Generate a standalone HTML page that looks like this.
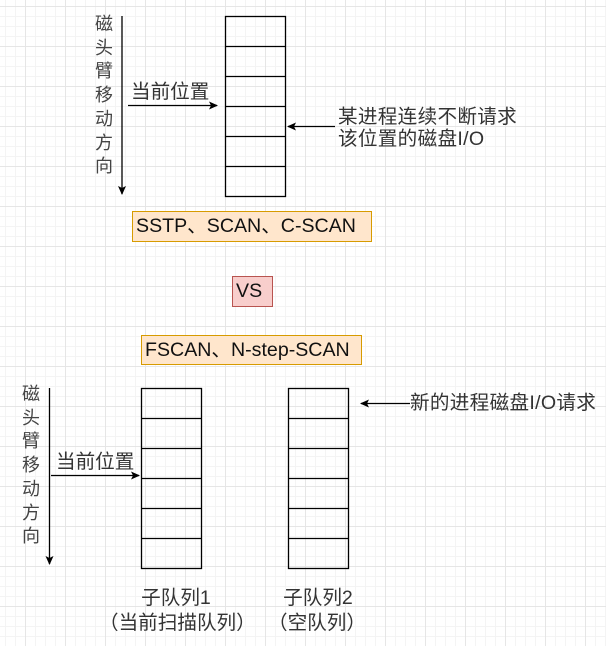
<!DOCTYPE html>
<html><head><meta charset="utf-8"><style>
html,body{margin:0;padding:0;}
body{width:606px;height:646px;position:relative;overflow:hidden;background:#fff;
background-image:linear-gradient(#e6e6e6 1px,transparent 1px),linear-gradient(90deg,#e6e6e6 1px,transparent 1px),linear-gradient(#f4f4f4 1px,transparent 1px),linear-gradient(90deg,#f4f4f4 1px,transparent 1px);
background-size:40px 40px,40px 40px,10px 10px,10px 10px;background-position:0 6px,25px 0,0 6px,25px 0;
font-family:"Liberation Sans","Noto Sans CJK SC",sans-serif;color:#333;}
.t{position:absolute;white-space:nowrap;font-size:19.6px;line-height:22px;}
.v{position:absolute;width:24px;text-align:center;font-size:18px;line-height:23.7px;color:#444;}
.box{position:absolute;box-sizing:border-box;font-size:19.6px;color:#111;padding-left:3px;white-space:nowrap;}
svg{position:absolute;left:0;top:0;}
</style></head><body>
<svg width="606" height="646">
<defs><marker id="a" markerWidth="10" markerHeight="10" refX="8" refY="4" orient="auto" markerUnits="userSpaceOnUse"><path d="M0,0 L9,4 L0,8 L2,4 z" fill="#000"/></marker></defs>
<g fill="none" stroke="#000" stroke-width="1.3">
<rect x="225.5" y="16.5" width="60" height="180"/>
<line x1="225" y1="46.5" x2="286" y2="46.5"/><line x1="225" y1="76.5" x2="286" y2="76.5"/><line x1="225" y1="106.5" x2="286" y2="106.5"/><line x1="225" y1="136.5" x2="286" y2="136.5"/><line x1="225" y1="166.5" x2="286" y2="166.5"/>
<rect x="141.5" y="388.5" width="60" height="180"/>
<line x1="141" y1="418.5" x2="202" y2="418.5"/><line x1="141" y1="448.5" x2="202" y2="448.5"/><line x1="141" y1="478.5" x2="202" y2="478.5"/><line x1="141" y1="508.5" x2="202" y2="508.5"/><line x1="141" y1="538.5" x2="202" y2="538.5"/>
<rect x="288.5" y="388.5" width="60" height="180"/>
<line x1="288" y1="418.5" x2="349" y2="418.5"/><line x1="288" y1="448.5" x2="349" y2="448.5"/><line x1="288" y1="478.5" x2="349" y2="478.5"/><line x1="288" y1="508.5" x2="349" y2="508.5"/><line x1="288" y1="538.5" x2="349" y2="538.5"/>
<line x1="122" y1="16" x2="122" y2="194" marker-end="url(#a)"/>
<line x1="128" y1="105.5" x2="217" y2="105.5" marker-end="url(#a)"/>
<line x1="335" y1="126.5" x2="288" y2="126.5" marker-end="url(#a)"/>
<line x1="49.5" y1="388" x2="49.5" y2="564" marker-end="url(#a)"/>
<line x1="51" y1="475.5" x2="139" y2="475.5" marker-end="url(#a)"/>
<line x1="410" y1="403.5" x2="361" y2="403.5" marker-end="url(#a)"/>
</g></svg>
<div class="v" style="left:92px;top:13px;">磁<br>头<br>臂<br>移<br>动<br>方<br>向</div>
<div class="v" style="left:19px;top:383px;">磁<br>头<br>臂<br>移<br>动<br>方<br>向</div>
<div class="t" style="left:131px;top:81px;">当前位置</div>
<div class="t" style="left:56px;top:451px;">当前位置</div>
<div class="t" style="left:338px;top:106px;letter-spacing:0.3px;">某进程连续不断请求</div>
<div class="t" style="left:338px;top:128px;letter-spacing:0.3px;">该位置的磁盘I/O</div>
<div class="t" style="left:410px;top:392px;letter-spacing:0.3px;">新的进程磁盘I/O请求</div>
<div class="t" style="left:136px;top:587px;width:80px;text-align:center;">子队列1</div>
<div class="t" style="left:99px;top:612px;">（当前扫描队列）</div>
<div class="t" style="left:278px;top:587px;width:80px;text-align:center;">子队列2</div>
<div class="t" style="left:268px;top:612px;">（空队列）</div>
<div class="box" style="left:132px;top:211px;width:240px;height:31px;background:#ffe6cc;border:1px solid #d79b00;line-height:29px;">SSTP、SCAN、C-SCAN</div>
<div class="box" style="left:232px;top:276px;width:41px;height:31px;background:#f8cecc;border:1px solid #b85450;line-height:29px;">VS</div>
<div class="box" style="left:141px;top:335px;width:221px;height:30px;background:#ffe6cc;border:1px solid #d79b00;line-height:28px;">FSCAN、N-step-SCAN</div>
</body></html>
